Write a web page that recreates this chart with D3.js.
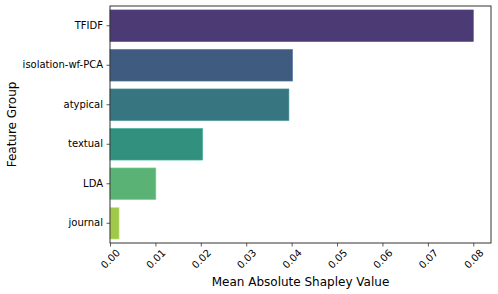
<!DOCTYPE html>
<html>
<head>
<meta charset="utf-8">
<script src="https://cdn.jsdelivr.net/npm/d3@7"></script>
<style>
  body { margin: 0; background: #fff; }
  text { font-family: "DejaVu Sans", sans-serif; fill: #000; }
</style>
</head>
<body>
<div id="chart"></div>
<script>
// Data
var features = ["TFIDF", "isolation-wf-PCA", "atypical", "textual", "LDA", "journal"];
var shapValues = [0.0800, 0.0402, 0.0394, 0.0204, 0.0101, 0.0020];
var barColors = ["#4b3a73", "#3f5c80", "#377681", "#32917e", "#5ab274", "#a0c84b"];
var xTicks = [0, 0.01, 0.02, 0.03, 0.04, 0.05, 0.06, 0.07, 0.08];

// SVG size and margins
var svg__Width = 498;
var svg__Height = 294;
var chart__Margin = { top: 6, right: 7, bottom: 51, left: 110 };
var chart__Width = svg__Width - chart__Margin.left - chart__Margin.right;
var chart__Height = svg__Height - chart__Margin.top - chart__Margin.bottom;

var svg = d3.select("#chart")
  .append("svg")
  .attr("width", svg__Width)
  .attr("height", svg__Height);

var chart__Group = svg.append("g")
  .attr("transform", `translate(${chart__Margin.left}, ${chart__Margin.top})`);

var x__Scale = d3.scaleLinear()
  .domain([0, 0.0839])
  .range([0, chart__Width]);

var y__Scale = d3.scaleBand()
  .domain(features)
  .range([0, chart__Height])
  .paddingInner(0.2)
  .paddingOuter(0.1);

// Bars
chart__Group.selectAll(".bar")
  .data(features)
  .enter()
  .append("rect")
  .attr("class", "bar")
  .attr("x", 0)
  .attr("y", d => y__Scale(d))
  .attr("width", (d, i) => x__Scale(shapValues[i]))
  .attr("height", y__Scale.bandwidth())
  .attr("fill", (d, i) => barColors[i])
  .attr("stroke", (d, i) => d3.color(barColors[i]).brighter(0.6))
  .attr("stroke-width", 0.6);

// Left axis
var left__Axis = d3.axisLeft(y__Scale).tickSizeOuter(0).tickSizeInner(3.5).tickPadding(3.5);
var gy = chart__Group.append("g").call(left__Axis);
gy.select(".domain").remove();
gy.selectAll(".tick line").attr("stroke", "#333").attr("stroke-width", 0.8);
gy.selectAll(".tick text").style("font-size", "10px").style("font-family", "DejaVu Sans");

// Bottom axis
var bottom__Axis = d3.axisBottom(x__Scale)
  .tickValues(xTicks)
  .tickFormat(d3.format(".2f"))
  .tickSizeOuter(0)
  .tickSizeInner(3.5);
var gx = chart__Group.append("g")
  .attr("transform", `translate(0, ${chart__Height})`)
  .call(bottom__Axis);
gx.select(".domain").remove();
gx.selectAll(".tick line").attr("stroke", "#333").attr("stroke-width", 0.8);
gx.selectAll(".tick text")
  .style("font-size", "10px")
  .style("font-family", "DejaVu Sans")
  .attr("text-anchor", "middle")
  .attr("dominant-baseline", "central")
  .attr("dy", null)
  .attr("y", 16)
  .attr("transform", "rotate(-45, 0, 16)");

// Frame
chart__Group.append("rect")
  .attr("width", chart__Width)
  .attr("height", chart__Height)
  .attr("fill", "none")
  .attr("stroke", "#333")
  .attr("stroke-width", 1);

// Axis titles
svg.append("text")
  .attr("x", chart__Margin.left + chart__Width / 2)
  .attr("y", 286)
  .attr("text-anchor", "middle")
  .style("font-size", "12px")
  .text("Mean Absolute Shapley Value");

svg.append("text")
  .attr("transform", `translate(16, ${chart__Margin.top + chart__Height / 2}) rotate(-90)`)
  .attr("text-anchor", "middle")
  .style("font-size", "12px")
  .text("Feature Group");
</script>
</body>
</html>
